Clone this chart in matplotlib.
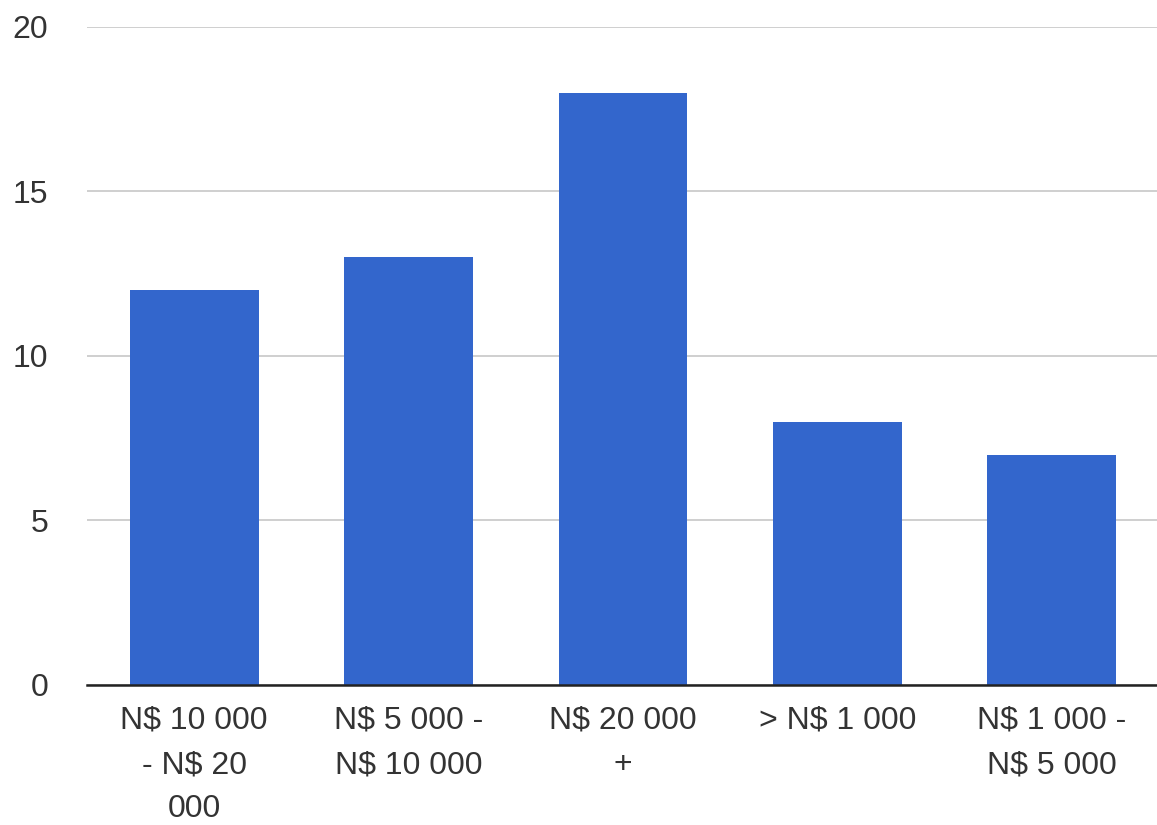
import matplotlib.pyplot as plt

# income bands and number of respondents in each
categories = ["N$ 10 000\n- N$ 20\n000", "N$ 5 000 -\nN$ 10 000", "N$ 20 000\n+",
              "> N$ 1 000", "N$ 1 000 -\nN$ 5 000"]
counts = [12, 13, 18, 8, 7]
yticks = [0, 5, 10, 15, 20]

plt.rcParams['font.family'] = ['Liberation Sans', 'DejaVu Sans']

fig = plt.figure(figsize=(11.57, 8.25), dpi=100)
ax = fig.add_axes([0.0752, 0.1697, 0.9265, 0.7976])

x = range(len(categories))
ax.bar(x, counts, width=0.6, color='#3366cc', zorder=2)

ax.set_xlim(-0.5, len(categories) - 0.5)
ax.set_ylim(0, 20)
ax.set_yticks(yticks)
ax.set_xticks(list(x))
ax.set_xticklabels(categories, fontsize=23, color='#333333', linespacing=1.62)
ax.tick_params(axis='y', labelsize=23, labelcolor='#333333', length=0, pad=28)
ax.tick_params(axis='x', length=0, pad=15)

ax.grid(axis='y', color='#cccccc', linewidth=1.3, zorder=0)
for s in ['top', 'right', 'left']:
    ax.spines[s].set_visible(False)
ax.spines['bottom'].set_color('#222222')
ax.spines['bottom'].set_linewidth(1.8)
ax.spines['bottom'].set_zorder(3)

fig.savefig('out.png', dpi=100)
